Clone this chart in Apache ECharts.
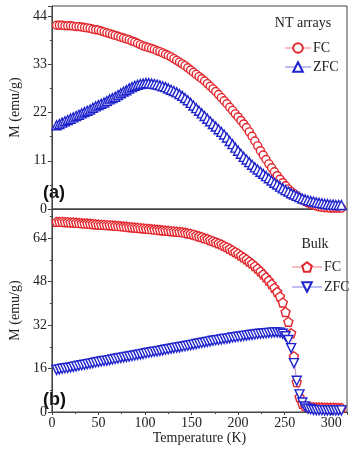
<!DOCTYPE html>
<html>
<head>
<meta charset="utf-8">
<script src="https://cdn.jsdelivr.net/npm/echarts@6/dist/echarts.min.js"></script>
<style>
  html, body { margin: 0; padding: 0; background: #fff; }
  #chart { width: 358px; height: 449px; }
</style>
</head>
<body>
<div id="chart"></div>
<script>
// temperature (K) shared by all four curves
const temperature = [
  5, 8, 11, 14, 17, 20, 23, 26, 29, 32,
  35, 38, 41, 44, 47, 50, 53, 56, 59, 62,
  65, 68, 71, 74, 77, 80, 83, 86, 89, 92,
  95, 98, 101, 104, 107, 110, 113, 116, 119, 122,
  125, 128, 131, 134, 137, 140, 143, 146, 149, 152,
  155, 158, 161, 164, 167, 170, 173, 176, 179, 182,
  185, 188, 191, 194, 197, 200, 203, 206, 209, 212,
  215, 218, 221, 224, 227, 230, 233, 236, 239, 242,
  245, 248, 251, 254, 257, 260, 263, 266, 269, 272,
  275, 278, 281, 284, 287, 290, 293, 296, 299, 302,
  305, 308, 311
];

// (a) NT arrays, M in emu/g
const ntFC = [
  41.9, 41.9, 41.9, 41.8, 41.8, 41.8, 41.7, 41.6, 41.6, 41.5,
  41.4, 41.3, 41.2, 41.0, 40.9, 40.8, 40.6, 40.4, 40.2, 40.0,
  39.8, 39.6, 39.4, 39.2, 39.0, 38.8, 38.6, 38.3, 38.1, 37.8,
  37.5, 37.2, 37.0, 36.8, 36.6, 36.4, 36.1, 35.9, 35.6, 35.3,
  35.0, 34.7, 34.3, 33.9, 33.5, 33.1, 32.7, 32.2, 31.7, 31.2,
  30.7, 30.2, 29.7, 29.2, 28.6, 28.0, 27.4, 26.8, 26.1, 25.4,
  24.7, 24.0, 23.2, 22.5, 21.7, 21.0, 20.2, 19.4, 18.6, 17.6,
  16.6, 15.5, 14.4, 13.3, 12.3, 11.3, 10.3, 9.4, 8.5, 7.6,
  6.8, 6.0, 5.3, 4.6, 4.0, 3.5, 3.0, 2.5, 2.1, 1.7,
  1.4, 1.1, 0.9, 0.7, 0.5, 0.4, 0.3, 0.3, 0.2, 0.2,
  0.2, 0.2, 0.2
];
const ntZFC = [
  19.1, 19.4, 19.7, 20.0, 20.3, 20.6, 20.9, 21.2, 21.5, 21.8,
  22.1, 22.4, 22.7, 23.1, 23.4, 23.7, 24.0, 24.3, 24.6, 25.0,
  25.3, 25.6, 26.0, 26.4, 26.8, 27.1, 27.5, 27.8, 28.1, 28.3,
  28.5, 28.6, 28.7, 28.7, 28.6, 28.5, 28.4, 28.2, 28.0, 27.8,
  27.5, 27.2, 26.9, 26.6, 26.2, 25.8, 25.3, 24.8, 24.2, 23.6,
  23.0, 22.4, 21.8, 21.2, 20.6, 20.0, 19.4, 18.8, 18.2, 17.6,
  17.0, 16.3, 15.5, 14.8, 14.0, 13.3, 12.6, 11.9, 11.3, 10.7,
  10.1, 9.5, 9.0, 8.5, 8.0, 7.5, 7.0, 6.5, 6.0, 5.6,
  5.1, 4.7, 4.3, 4.0, 3.6, 3.3, 3.0, 2.7, 2.4, 2.2,
  2.0, 1.8, 1.7, 1.5, 1.4, 1.3, 1.2, 1.1, 1.0, 1.0,
  0.9, 0.9, 0.9
];

// (b) Bulk
const bulkFC = [
  70.0, 70.0, 70.0, 69.9, 69.9, 69.8, 69.8, 69.7, 69.6, 69.5,
  69.4, 69.4, 69.3, 69.2, 69.1, 69.0, 68.9, 68.9, 68.8, 68.8,
  68.7, 68.6, 68.5, 68.4, 68.3, 68.2, 68.1, 68.0, 67.9, 67.8,
  67.7, 67.6, 67.5, 67.4, 67.3, 67.2, 67.1, 67.0, 66.9, 66.8,
  66.7, 66.6, 66.5, 66.4, 66.3, 66.2, 66.0, 65.8, 65.6, 65.3,
  65.0, 64.7, 64.4, 64.0, 63.7, 63.3, 62.9, 62.5, 62.1, 61.7,
  61.2, 60.7, 60.1, 59.5, 58.9, 58.3, 57.6, 56.9, 56.2, 55.4,
  54.6, 53.7, 52.8, 51.8, 50.7, 49.6, 48.4, 47.1, 45.7, 44.2,
  42.5, 40.3, 36.8, 33.2, 29.0, 20.5, 11.0, 5.5, 3.0, 2.2,
  1.9, 1.8, 1.8, 1.7, 1.7, 1.7, 1.6, 1.6, 1.6, 1.6,
  1.5, 1.5, 1.5
];
const bulkZFC = [
  15.5, 15.7, 15.9, 16.1, 16.2, 16.4, 16.6, 16.8, 17.0, 17.2,
  17.4, 17.6, 17.8, 18.0, 18.2, 18.4, 18.6, 18.8, 18.9, 19.1,
  19.3, 19.5, 19.7, 19.9, 20.1, 20.3, 20.4, 20.6, 20.8, 21.0,
  21.2, 21.4, 21.6, 21.8, 22.0, 22.2, 22.3, 22.5, 22.7, 22.9,
  23.1, 23.3, 23.5, 23.7, 23.8, 24.0, 24.2, 24.4, 24.6, 24.8,
  25.0, 25.2, 25.4, 25.6, 25.8, 26.0, 26.2, 26.4, 26.5, 26.7,
  26.9, 27.0, 27.2, 27.4, 27.5, 27.7, 27.8, 28.0, 28.1, 28.3,
  28.4, 28.5, 28.7, 28.8, 28.9, 29.0, 29.1, 29.2, 29.3, 29.3,
  29.2, 28.8, 27.9, 26.5, 23.5, 18.0, 11.5, 6.5, 3.5, 2.0,
  1.3, 1.0, 0.8, 0.7, 0.7, 0.7, 0.6, 0.6, 0.6, 0.6,
  0.6, 0.6, 0.6
];

const ntTicks = [0, 11, 22, 33, 44];
const bulkTicks = [0, 16, 32, 48, 64];
const tempTicks = [0, 50, 100, 150, 200, 250, 300];

const red = "#e3262d";
const blue = "#2024cc";
const serif = '"Liberation Serif", "DejaVu Serif", serif';
const pentagon = "path://M0,-10L9.51,-3.09L5.88,8.09L-5.88,8.09L-9.51,-3.09Z";
const downTriangle = "path://M-10,-8L10,-8L0,9Z";

const chart = echarts.init(document.getElementById("chart"));

function pairs(values) {
  return temperature.map((t, i) => [t, values[i]]);
}

function curve(name, idx, values, symbol, size, color, lineColor) {
  return {
    name: name,
    type: "line",
    xAxisIndex: idx,
    yAxisIndex: idx,
    data: pairs(values),
    symbol: symbol,
    symbolSize: size,
    showSymbol: true,
    showAllSymbol: true,
    lineStyle: { color: lineColor, width: 1 },
    itemStyle: { color: "#fff", borderColor: color, borderWidth: 1.4 },
    emphasis: { disabled: true },
  };
}

function yAxisFor(idx, max, step, ticks) {
  return {
    type: "value",
    gridIndex: idx,
    min: 0,
    max: max,
    interval: step,
    name: "M (emu/g)",
    nameLocation: "middle",
    nameGap: 23,
    nameTextStyle: { fontFamily: serif, fontSize: 14, color: "#222" },
    axisLine: { show: true, lineStyle: { color: "#444" } },
    axisTick: { show: true, length: 4, lineStyle: { color: "#444" } },
    minorTick: { show: true, splitNumber: 2, length: 2, lineStyle: { color: "#444" } },
    splitLine: { show: false },
    axisLabel: {
      margin: 5,
      fontFamily: serif,
      fontSize: 14,
      color: "#222",
      formatter: (v) => (ticks.includes(v) ? String(v) : ""),
    },
  };
}

const option = {
  animation: false,
  backgroundColor: "#fff",
  grid: [
    { left: 41, top: 6, width: 306, height: 203, show: true, borderColor: "#444", borderWidth: 1 },
    { left: 41, top: 209, width: 306, height: 203, show: true, borderColor: "#444", borderWidth: 1 },
  ],
  xAxis: [
    {
      type: "value",
      gridIndex: 0,
      min: 0,
      max: 317,
      interval: 50,
      axisLine: { show: true, lineStyle: { color: "#444" } },
      axisTick: { show: false },
      axisLabel: { show: false },
      splitLine: { show: false },
    },
    {
      type: "value",
      gridIndex: 1,
      min: 0,
      max: 317,
      interval: 50,
      name: "Temperature (K)",
      nameLocation: "middle",
      nameGap: 19,
      nameTextStyle: { fontFamily: serif, fontSize: 14, color: "#222" },
      axisLine: { show: true, lineStyle: { color: "#444" } },
      axisTick: { show: true, length: 3, lineStyle: { color: "#444" } },
      minorTick: { show: true, splitNumber: 2, length: 2, lineStyle: { color: "#444" } },
      splitLine: { show: false },
      axisLabel: {
        margin: 4,
        fontFamily: serif,
        fontSize: 14,
        color: "#222",
        formatter: (v) => (tempTicks.includes(v) ? String(v) : ""),
      },
    },
  ],
  yAxis: [yAxisFor(0, 46.3, 11, ntTicks), yAxisFor(1, 74.7, 16, bulkTicks)],
  legend: [
    {
      data: ["FC a", "ZFC a"],
      orient: "vertical",
      left: 279,
      top: 36,
      itemWidth: 26,
      itemHeight: 12,
      itemGap: 5,
      itemStyle: { borderWidth: 2 },
      selectedMode: false,
      formatter: (n) => n.split(" ")[0],
      textStyle: { fontFamily: serif, fontSize: 14, color: "#222", padding: [0, 0, 0, -3] },
    },
    {
      data: ["FC b", "ZFC b"],
      orient: "vertical",
      left: 286,
      top: 255,
      itemWidth: 30,
      itemHeight: 12,
      itemGap: 6,
      itemStyle: { borderWidth: 2 },
      selectedMode: false,
      formatter: (n) => n.split(" ")[0],
      textStyle: { fontFamily: serif, fontSize: 14, color: "#222", padding: [0, 0, 0, -3] },
    },
  ],
  graphic: [
    {
      type: "text",
      x: 303,
      y: 23,
      style: { text: "NT arrays", font: "14px " + serif, fill: "#222", align: "center", verticalAlign: "middle" },
    },
    {
      type: "text",
      x: 315,
      y: 244,
      style: { text: "Bulk", font: "14px " + serif, fill: "#222", align: "center", verticalAlign: "middle" },
    },
    {
      type: "text",
      x: 43,
      y: 184,
      style: { text: "(a)", font: 'bold 18px "Liberation Sans", Arial, sans-serif', fill: "#111" },
    },
    {
      type: "text",
      x: 43,
      y: 391,
      style: { text: "(b)", font: 'bold 18px "Liberation Sans", Arial, sans-serif', fill: "#111" },
    },
  ],
  series: [
    curve("FC a", 0, ntFC, "circle", 8, red, "rgba(227,38,45,0.3)"),
    curve("ZFC a", 0, ntZFC, "triangle", 9, blue, "rgba(32,36,204,0.3)"),
    curve("FC b", 1, bulkFC, pentagon, 9, red, "rgba(227,38,45,0.3)"),
    curve("ZFC b", 1, bulkZFC, downTriangle, 9, blue, "rgba(32,36,204,0.3)"),
  ],
};

chart.setOption(option);
</script>
</body>
</html>
